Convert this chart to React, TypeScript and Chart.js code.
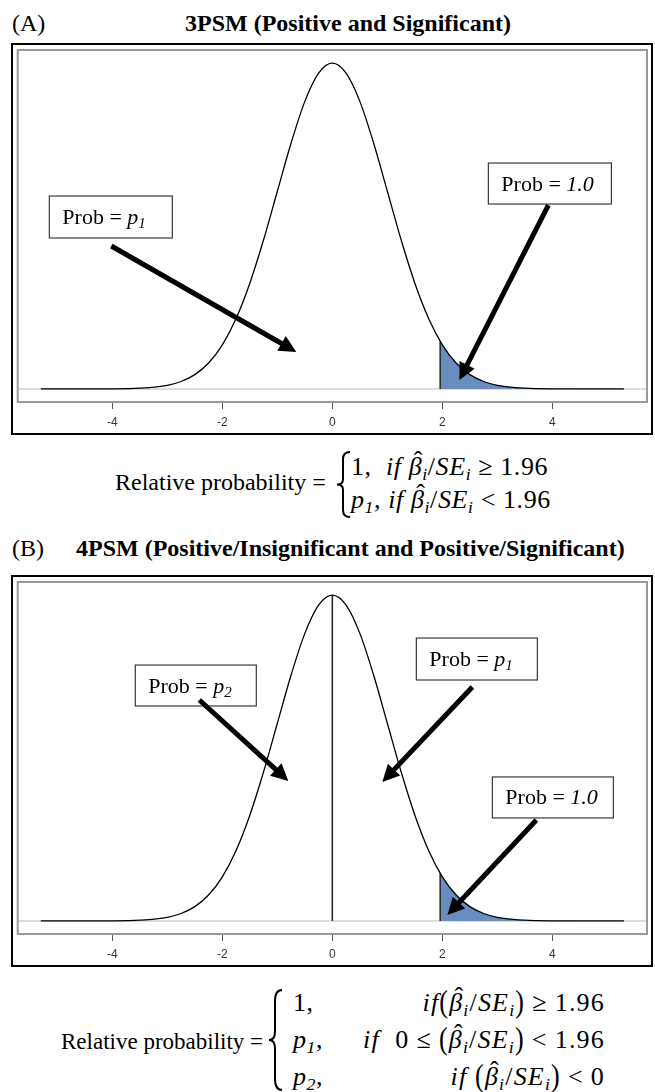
import React, { useEffect, useRef } from "react";
import { Chart, registerables } from "chart.js";

Chart.register(...registerables);

// ---- data ----
const CURVE_X = [-5.3, -5, -4.5, -4, -3.5, -3, -2.75, -2.5, -2.25, -2, -1.75, -1.5, -1.25, -1, -0.75, -0.5, -0.25, 0, 0.25, 0.5, 0.75, 1, 1.25, 1.5, 1.75, 2, 2.25, 2.5, 2.75, 3, 3.5, 4, 4.5, 5, 5.3];
const CURVE_Y = [0, 0, 0.00002, 0.0001, 0.0009, 0.0044, 0.0091, 0.0175, 0.0317, 0.054, 0.0863, 0.1295, 0.1826, 0.242, 0.3011, 0.3521, 0.3867, 0.3989, 0.3867, 0.3521, 0.3011, 0.242, 0.1826, 0.1295, 0.0863, 0.054, 0.0317, 0.0175, 0.0091, 0.0044, 0.0009, 0.0001, 0.00002, 0, 0];
const SHADE_X = [1.96, 2, 2.25, 2.5, 2.75, 3, 3.5, 4, 4.5, 5, 5.3];
const SHADE_Y = [0.0584, 0.054, 0.0317, 0.0175, 0.0091, 0.0044, 0.0009, 0.0001, 0.00002, 0, 0];
const CUTOFF_X = [1.96, 1.96];
const CUTOFF_Y = [0, 0.0584];
const ZERO_X = [0, 0];
const ZERO_Y = [0, 0.3989];
const TICKS = [-4, -2, 0, 2, 4];
const X_RANGE = [-5.72, 5.72];
const Y_RANGE = [-0.016, 0.415];

type Annot = {
  it: string;
  sub?: string;
  box: number[]; // x1, y1, x2, y2 in data units
  arrow: number[]; // from x, from y, tip x, tip y in data units
};

const ANNOT_A: Annot[] = [
  { it: "p", sub: "1", box: [-5.145, 0.2362, -2.909, 0.1848], arrow: [-4.018, 0.175, -0.655, 0.0453] },
  { it: "1.0", box: [2.836, 0.2766, 5.073, 0.2264], arrow: [3.927, 0.2252, 2.309, 0.011] },
];
const ANNOT_B: Annot[] = [
  { it: "p", sub: "2", box: [-3.582, 0.3133, -1.382, 0.2632], arrow: [-2.418, 0.2705, -0.8, 0.1714] },
  { it: "p", sub: "1", box: [1.527, 0.3464, 3.727, 0.295], arrow: [2.545, 0.2864, 0.909, 0.1701] },
  { it: "1.0", box: [2.909, 0.1763, 5.109, 0.1261], arrow: [3.709, 0.1236, 2.091, 0.0073] },
];

const SERIF = '"Liberation Serif", "Times New Roman", serif';
const SANS = '"Liberation Sans", Arial, sans-serif';

const pts = (xs: number[], ys: number[]) => xs.map((x, i) => ({ x, y: ys[i] }));

function drawArrow(ctx: CanvasRenderingContext2D, x1: number, y1: number, x2: number, y2: number) {
  const ang = Math.atan2(y2 - y1, x2 - x1);
  const headLen = 17;
  const headW = 8.5;
  const bx = x2 - headLen * Math.cos(ang);
  const by = y2 - headLen * Math.sin(ang);
  ctx.strokeStyle = "#000";
  ctx.fillStyle = "#000";
  ctx.lineWidth = 5;
  ctx.lineCap = "butt";
  ctx.beginPath();
  ctx.moveTo(x1, y1);
  ctx.lineTo(bx + 2 * Math.cos(ang), by + 2 * Math.sin(ang));
  ctx.stroke();
  ctx.beginPath();
  ctx.moveTo(x2, y2);
  ctx.lineTo(bx + headW * Math.sin(ang), by - headW * Math.cos(ang));
  ctx.lineTo(bx - headW * Math.sin(ang), by + headW * Math.cos(ang));
  ctx.closePath();
  ctx.fill();
}

function makeDecor(annots: Annot[]) {
  return {
    id: "decor",
    beforeDatasetsDraw(chart: any) {
      const { ctx, chartArea: a, scales } = chart;
      const y0 = scales.y.getPixelForValue(0);
      ctx.save();
      ctx.strokeStyle = "#d2d2d2";
      ctx.lineWidth = 1.5;
      ctx.beginPath();
      ctx.moveTo(a.left, y0);
      ctx.lineTo(a.right, y0);
      ctx.stroke();
      ctx.restore();
    },
    afterDatasetsDraw(chart: any) {
      const { ctx, chartArea: a, scales } = chart;
      const sx = scales.x, sy = scales.y;
      ctx.save();
      ctx.strokeStyle = "#9a9a9a";
      ctx.lineWidth = 2;
      ctx.strokeRect(a.left, a.top, a.right - a.left, a.bottom - a.top);
      for (const an of annots) {
        const bx1 = sx.getPixelForValue(an.box[0]);
        const by1 = sy.getPixelForValue(an.box[1]);
        const bx2 = sx.getPixelForValue(an.box[2]);
        const by2 = sy.getPixelForValue(an.box[3]);
        ctx.fillStyle = "#fff";
        ctx.fillRect(bx1, by1, bx2 - bx1, by2 - by1);
        ctx.strokeStyle = "#3a3a3a";
        ctx.lineWidth = 1.2;
        ctx.strokeRect(bx1, by1, bx2 - bx1, by2 - by1);
        const base = (by1 + by2) / 2 + 7;
        let tx = bx1 + 13;
        ctx.fillStyle = "#000";
        ctx.textBaseline = "alphabetic";
        ctx.textAlign = "left";
        ctx.font = `22px ${SERIF}`;
        ctx.fillText("Prob = ", tx, base);
        tx += ctx.measureText("Prob = ").width;
        ctx.font = `italic 22px ${SERIF}`;
        ctx.fillText(an.it, tx, base);
        tx += ctx.measureText(an.it).width;
        if (an.sub) {
          ctx.font = `italic 15px ${SERIF}`;
          ctx.fillText(an.sub, tx, base + 4);
        }
        drawArrow(
          ctx,
          sx.getPixelForValue(an.arrow[0]),
          sy.getPixelForValue(an.arrow[1]),
          sx.getPixelForValue(an.arrow[2]),
          sy.getPixelForValue(an.arrow[3])
        );
      }
      ctx.restore();
    },
  };
}

function PsmChart({ annots, zeroLine, top }: { annots: Annot[]; zeroLine: boolean; top: number }) {
  const ref = useRef<HTMLCanvasElement | null>(null);
  useEffect(() => {
    if (!ref.current) return;
    const line = { showLine: true, pointRadius: 0, fill: false, borderColor: "#000" };
    const datasets: any[] = [
      { ...line, data: pts(CURVE_X, CURVE_Y), borderWidth: 1.3, cubicInterpolationMode: "monotone" },
      { ...line, data: pts(CUTOFF_X, CUTOFF_Y), borderColor: "#222", borderWidth: 1.5 },
    ];
    if (zeroLine) datasets.push({ ...line, data: pts(ZERO_X, ZERO_Y), borderColor: "#222", borderWidth: 1.5 });
    datasets.push({
      ...line,
      data: pts(SHADE_X, SHADE_Y),
      borderWidth: 0,
      fill: "origin",
      backgroundColor: "rgb(106,141,192)",
      cubicInterpolationMode: "monotone",
    });
    const chart = new Chart(ref.current, {
      type: "scatter",
      data: { datasets },
      options: {
        responsive: false,
        animation: false,
        devicePixelRatio: 1,
        layout: { padding: { left: 4.7, right: 4, top: 5, bottom: 0 } },
        plugins: { legend: { display: false }, tooltip: { enabled: false } },
        scales: {
          x: {
            type: "linear",
            min: X_RANGE[0],
            max: X_RANGE[1],
            afterBuildTicks: (s: any) => {
              s.ticks = TICKS.map((v) => ({ value: v }));
            },
            afterFit: (s: any) => {
              s.height = 31;
            },
            grid: { display: true, drawOnChartArea: false, drawTicks: true, tickLength: 7, color: "#555", lineWidth: 1 },
            border: { display: false },
            ticks: {
              font: { family: SANS, size: 12 },
              color: "#333",
              padding: 6,
              maxRotation: 0,
              callback: (v: any) => String(v),
            },
          },
          y: { display: false, min: Y_RANGE[0], max: Y_RANGE[1] },
        },
      } as any,
      plugins: [makeDecor(annots)],
    });
    return () => chart.destroy();
  }, [annots, zeroLine]);
  return (
    <div
      style={{
        position: "absolute",
        left: 11,
        top,
        width: 642,
        height: 392,
        border: "2px solid #000",
        boxSizing: "border-box",
      }}
    >
      <canvas ref={ref} width={638} height={388} style={{ position: "absolute", left: 0, top: 0, width: 638, height: 388 }} />
    </div>
  );
}

const Sub = ({ children }: { children: any }) => (
  <span style={{ fontSize: "0.68em", verticalAlign: "-0.3em", fontStyle: "italic" }}>{children}</span>
);
const BetaHat = () => (
  <span style={{ position: "relative", display: "inline-block", fontStyle: "italic" }}>
    β
    <span style={{ position: "absolute", left: "0.2em", top: "-0.24em", fontStyle: "normal" }}>ˆ</span>
  </span>
);
const Ratio = () => (
  <>
    <BetaHat />
    <Sub>i</Sub>/<i>SE</i>
    <Sub>i</Sub>
  </>
);
const Rel = ({ children }: { children: any }) => <span style={{ margin: "0 7px" }}>{children}</span>;
const Paren = ({ children }: { children: any }) => (
  <span style={{ display: "inline-block", transform: "scaleY(1.25)", transformOrigin: "50% 60%" }}>{children}</span>
);

function Brace({ left, top, width, height }: { left: number; top: number; width: number; height: number }) {
  const w = width, h = height, m = w * 0.5;
  const d = `M ${w} 1 Q ${m} 1 ${m} ${h * 0.12} L ${m} ${h * 0.42} Q ${m} ${h * 0.5} 1 ${h * 0.5} Q ${m} ${h * 0.5} ${m} ${h * 0.58} L ${m} ${h * 0.88} Q ${m} ${h - 1} ${w} ${h - 1}`;
  return (
    <svg style={{ position: "absolute", left, top }} width={w} height={h}>
      <path d={d} fill="none" stroke="#000" strokeWidth={2} />
    </svg>
  );
}

const txt = (left: number, top: number, size: number, extra: any = {}) => ({
  position: "absolute" as const,
  left,
  top,
  fontFamily: SERIF,
  fontSize: size,
  lineHeight: `${size}px`,
  whiteSpace: "nowrap" as const,
  color: "#000",
  ...extra,
});

const MATH = { letterSpacing: "0.6px" };
const MATH_B = { letterSpacing: "1.2px" };

export default function App() {
  return (
    <div style={{ position: "absolute", left: 0, top: 0, width: 655, height: 1092, background: "#fff", overflow: "hidden" }}>
      <div style={txt(12, 11, 24)}>(A)</div>
      <div style={txt(185, 11, 24, { fontWeight: "bold" })}>3PSM (Positive and Significant)</div>
      <PsmChart annots={ANNOT_A} zeroLine={false} top={43} />

      <div style={txt(115, 470, 24)}>Relative probability =</div>
      <Brace left={336} top={451} width={14} height={67} />
      <div style={txt(351, 454, 26, MATH)}>
        1,&nbsp;&nbsp;<i>if</i>&nbsp;<Ratio /> ≥ 1.96
      </div>
      <div style={txt(351, 487, 26, MATH)}>
        <i>p</i>
        <Sub>1</Sub>,&nbsp;<i>if</i>&nbsp;<Ratio /> &lt; 1.96
      </div>

      <div style={txt(12, 536, 24)}>(B)</div>
      <div style={txt(76, 536, 24, { fontWeight: "bold" })}>4PSM (Positive/Insignificant and Positive/Significant)</div>
      <PsmChart annots={ANNOT_B} zeroLine={true} top={575} />

      <div style={txt(61, 1030, 23)}>Relative probability =</div>
      <Brace left={268} top={989} width={14} height={102} />
      <div style={txt(293, 990, 26, MATH)}>1,</div>
      <div style={txt(0, 990, 26, { ...MATH_B, left: undefined, right: 50 })}>
        <i>if</i>
        <Paren>(</Paren>
        <Ratio />
        <Paren>)</Paren>
        <Rel>≥</Rel>1.96
      </div>
      <div style={txt(293, 1027, 26, MATH)}>
        <i>p</i>
        <Sub>1</Sub>,
      </div>
      <div style={txt(0, 1027, 26, { ...MATH_B, left: undefined, right: 50 })}>
        <i>if</i>&nbsp;&nbsp;0<Rel>≤</Rel>
        <Paren>(</Paren>
        <Ratio />
        <Paren>)</Paren>
        <Rel>&lt;</Rel>1.96
      </div>
      <div style={txt(293, 1064, 26, MATH)}>
        <i>p</i>
        <Sub>2</Sub>,
      </div>
      <div style={txt(0, 1064, 26, { ...MATH_B, left: undefined, right: 50 })}>
        <i>if</i>&nbsp;<Paren>(</Paren>
        <Ratio />
        <Paren>)</Paren>
        <Rel>&lt;</Rel>0
      </div>
    </div>
  );
}
